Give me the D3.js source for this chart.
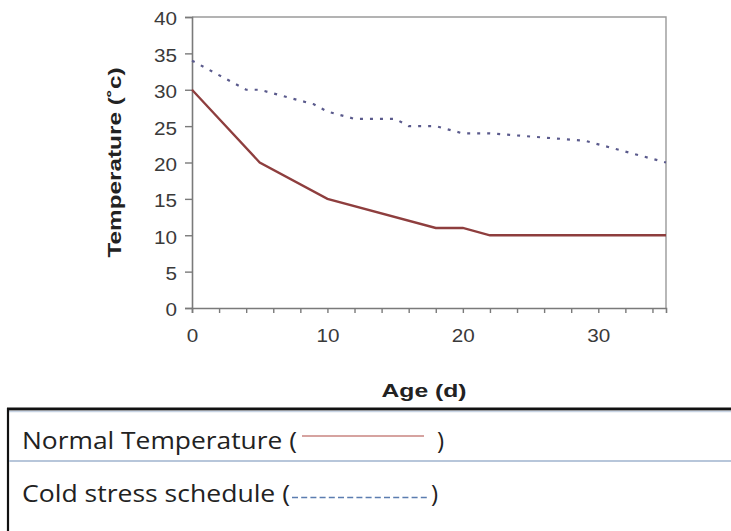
<!DOCTYPE html>
<html><head><meta charset="utf-8">
<script src="https://cdn.jsdelivr.net/npm/d3@7"></script>
<style>body{margin:0;background:#fff;}svg{display:block;}</style>
</head><body>
<script>
const normalAge  = [0, 5, 10, 18, 20, 22, 35];
const normalTemp = [30, 20, 15, 11, 11, 10, 10];
const coldAge  = [0, 4, 5, 6, 9, 10, 12, 15, 16, 18, 20, 22, 29, 35];
const coldTemp = [34, 30, 30, 29.5, 28, 27, 26, 26, 25, 25, 24, 24, 23, 20];
const yTicks = [0, 5, 10, 15, 20, 25, 30, 35, 40];
const xTicks = d3.range(0, 36, 2);
const xLabels = [0, 10, 20, 30];
const legendItems = ["Normal Temperature (", "Cold stress schedule ("];

const W = 731, H = 531;
const chartFont = "Liberation Sans, Arial, Helvetica, sans-serif";
const svg = d3.select("body").append("svg").attr("width", W).attr("height", H);
const m = {l: 192, r: 666, t: 17, b: 308};
const x = d3.scaleLinear().domain([0, 35]).range([m.l, m.r]);
const y = d3.scaleLinear().domain([0, 40]).range([m.b, m.t]);

// frame top/right
svg.append("path").attr("d", `M${m.l},${m.t}H${m.r}V${m.b}`).attr("fill","none").attr("stroke","#9a9a9a").attr("stroke-width",1.4);

const ya = svg.append("g").attr("transform",`translate(${m.l},0)`)
  .call(d3.axisLeft(y).tickValues(yTicks).tickSize(7).tickPadding(8));
const xa = svg.append("g").attr("transform",`translate(0,${m.b})`)
  .call(d3.axisBottom(x).tickValues(xTicks).tickSize(5).tickPadding(17)
    .tickFormat(d => xLabels.includes(d) ? d : ""));
[ya, xa].forEach(g => {
  g.select(".domain").attr("stroke","#7a7a7a").attr("stroke-width",1.6);
  g.selectAll(".tick line").attr("stroke","#7a7a7a").attr("stroke-width",1.4);
  g.selectAll("text").attr("font-family",chartFont).attr("font-size",17.5).attr("fill","#3a3a3a")
    .each(function(){ const s = this.textContent; if (s) d3.select(this).attr("textLength", s.length*11.5).attr("lengthAdjust","spacingAndGlyphs"); });
});
ya.selectAll("text").attr("dy","0.45em");

const line = d3.line().x(d => x(d[0])).y(d => y(d[1]));
svg.append("path").datum(coldAge.map((a,i)=>[a, coldTemp[i]]))
  .attr("d", line).attr("fill","none").attr("stroke","#5a5a8c").attr("stroke-width",2.2)
  .attr("stroke-dasharray","3,7");
svg.append("path").datum(normalAge.map((a,i)=>[a, normalTemp[i]]))
  .attr("d", line).attr("fill","none").attr("stroke","#8e3e3e").attr("stroke-width",2.3);

svg.append("text").attr("transform",`translate(121,${(m.t+m.b)/2}) rotate(-90)`)
  .attr("text-anchor","middle").attr("font-family",chartFont)
  .attr("font-weight","bold").attr("font-size",19).attr("fill","#222")
  .attr("textLength",190).attr("lengthAdjust","spacingAndGlyphs").text("Temperature (˚c)");
svg.append("text").attr("x", 424).attr("y", 397)
  .attr("text-anchor","middle").attr("font-family",chartFont)
  .attr("font-weight","bold").attr("font-size",19).attr("fill","#222")
  .attr("textLength",85).attr("lengthAdjust","spacingAndGlyphs").text("Age (d)");

// legend table
const legFont = "Open Sans, Noto Sans, sans-serif";
const lg = svg.append("g");
lg.append("line").attr("x1",7).attr("x2",W).attr("y1",409).attr("y2",409).attr("stroke","#111").attr("stroke-width",3);
lg.append("line").attr("x1",7).attr("x2",W).attr("y1",411.5).attr("y2",411.5).attr("stroke","#c8d4e4").attr("stroke-width",1.5);
lg.append("line").attr("x1",8).attr("x2",8).attr("y1",408).attr("y2",H).attr("stroke","#111").attr("stroke-width",2.2);
lg.append("line").attr("x1",9).attr("x2",W).attr("y1",461).attr("y2",461).attr("stroke","#b7c6da").attr("stroke-width",2);
const rowY = [449, 502];
const rowLen = [275, 268];
legendItems.forEach((t,i) => {
  lg.append("text").attr("x",22).attr("y",rowY[i]).attr("font-family",legFont)
    .attr("font-size",24).attr("fill","#222")
    .attr("textLength",rowLen[i]).attr("lengthAdjust","spacingAndGlyphs").text(t);
});
lg.append("line").attr("x1",302).attr("x2",424).attr("y1",436).attr("y2",436).attr("stroke","#c98480").attr("stroke-width",1.6);
lg.append("text").attr("x",437).attr("y",449).attr("font-family",legFont).attr("font-size",24).attr("fill","#222").text(")");
lg.append("line").attr("x1",292).attr("x2",430).attr("y1",497.5).attr("y2",497.5).attr("stroke","#5b7db0").attr("stroke-width",1.3).attr("stroke-dasharray","6,3.2");
lg.append("text").attr("x",431).attr("y",502).attr("font-family",legFont).attr("font-size",24).attr("fill","#222").text(")");
</script>
</body></html>
